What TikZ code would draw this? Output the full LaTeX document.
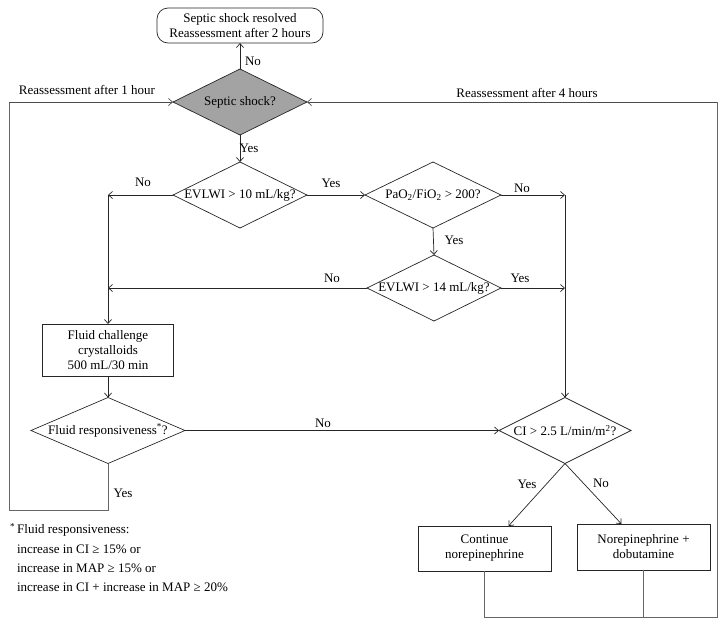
\documentclass[tikz,border=0pt]{standalone}
\usepackage{fontspec}
\setmainfont{Liberation Serif}
\usetikzlibrary{arrows.meta,shapes.geometric,calc}
\begin{document}
\begin{tikzpicture}[x=1pt,y=-1pt,
  font=\fontsize{13}{15}\selectfont,
  every node/.style={outer sep=0pt},
  dia/.style={draw=black!85, shape=diamond, minimum width=#1, minimum height=66pt, inner sep=0pt, line width=0.7pt},
  dia/.default=134pt,
  boxnode/.style={draw=black!85, rectangle, line width=0.7pt, align=center, inner sep=0pt},
  conn/.style={draw=black!85, line width=0.7pt, -{Straight Barb[length=4pt,width=7pt]}},
  loopline/.style={draw=black!60, line width=0.8pt},
  lbl/.style={inner sep=1pt}
]
\useasboundingbox (0,0) rectangle (724,627);

% nodes
\node[boxnode, rounded corners=11pt, minimum width=166pt, minimum height=35pt] (top) at (240,25.5) {Septic shock resolved\\Reassessment after 2 hours};
\node[dia, fill={rgb,255:red,163;green,163;blue,163}] (ss) at (240,102) {};
\node at (ss) {Septic shock?};
\node[dia] (e10) at (240,195) {};
\node at (e10) {EVLWI > 10 mL/kg?};
\node[dia=136pt] (pf) at (433,195) {};
\node at (pf) {PaO\textsubscript{2}/FiO\textsubscript{2} > 200?};
\node[dia] (e14) at (434,288) {};
\node at (e14) {EVLWI > 14 mL/kg?};
\node[boxnode, minimum width=131pt, minimum height=52pt] (fb) at (108,350) {Fluid challenge\\crystalloids\\500 mL/30 min};
\node[dia=154pt] (fr) at (108,430.5) {};
\node at (fr) {Fluid responsiveness\textsuperscript{*}?};
\node[dia=132pt] (ci) at (565,430.5) {};
\node at (ci) {CI > 2.5 L/min/m\textsuperscript{2}?};
\node[boxnode, minimum width=133pt, minimum height=45pt] (cont) at (484.5,548.5) {Continue\\norepinephrine};
\node[boxnode, minimum width=133pt, minimum height=46pt] (nore) at (643.5,547) {Norepinephrine +\\dobutamine};

% junction coordinates
\coordinate (jl1) at (108,195);
\coordinate (jl2) at (108,288);
\coordinate (jr1) at (565,195);
\coordinate (jr2) at (565,288);
\coordinate (ya) at (108,510);
\coordinate (yb) at (9,510);
\coordinate (yc) at (9,102);
\coordinate (ba) at (484.5,617);
\coordinate (bb) at (717,617);
\coordinate (bc) at (717,102);

% connectors
\draw[conn] (ss.north) -- (top.south);
\node[lbl] (lno1) at (253,61) {No};
\draw[conn] (ss.south) -- (e10.north);
\node[lbl] (lyes1) at (249,148) {Yes};

\draw[conn] (e10.west) -- (jl1);
\node[lbl] (lno2) at (143,182) {No};
\draw[conn] (jl1) -- (fb.north);
\draw[conn] (e14.west) -- (jl2);
\node[lbl] (lno3) at (332,278) {No};

\draw[conn] (e10.east) -- (pf.west);
\node[lbl] (lyes2) at (331,183) {Yes};
\draw[conn] (pf.east) -- (jr1);
\node[lbl] (lno4) at (522,188) {No};
\draw[conn] (pf.south) -- (e14.north);
\node[lbl] (lyes3) at (454,240) {Yes};
\draw[conn] (e14.east) -- (jr2);
\node[lbl] (lyes4) at (520,278) {Yes};
\draw[conn] (jr1) -- (ci.north);

\draw[conn] (fb.south) -- (fr.north);
\draw[conn] (fr.east) -- (ci.west);
\node[lbl] (lno5) at (323,423) {No};

\draw[loopline] (fr.south) -- (ya) -- (yb) -- (yc);
\draw[conn, draw=black!70] (yc) -- (ss.west);
\node[lbl] (lyes5) at (123,493) {Yes};
\node[lbl] (l1h) at (87,90) {Reassessment after 1 hour};

\draw[conn] (ci.south) -- ([xshift=24pt]cont.north);
\node[lbl] (lyes6) at (527,484) {Yes};
\draw[conn] (ci.south) -- ([xshift=-22pt]nore.north);
\node[lbl] (lno6) at (601,483) {No};

\draw[loopline] (cont.south) -- (ba) -- (bb) -- (bc);
\draw[loopline] (nore.south) -- (nore.south |- ba);
\draw[conn, draw=black!70] (bc) -- (ss.east);
\node[lbl] (l4h) at (527,93) {Reassessment after 4 hours};

% footnote
\node[lbl, anchor=west] (fn1) at (9,530) {\textsuperscript{*}\,Fluid responsiveness:};
\node[lbl, anchor=west] (fn2) at (16,549) {increase in CI ≥ 15\% or};
\node[lbl, anchor=west] (fn3) at (16,568) {increase in MAP ≥ 15\% or};
\node[lbl, anchor=west] (fn4) at (16,587) {increase in CI + increase in MAP ≥ 20\%};
\end{tikzpicture}
\end{document}
